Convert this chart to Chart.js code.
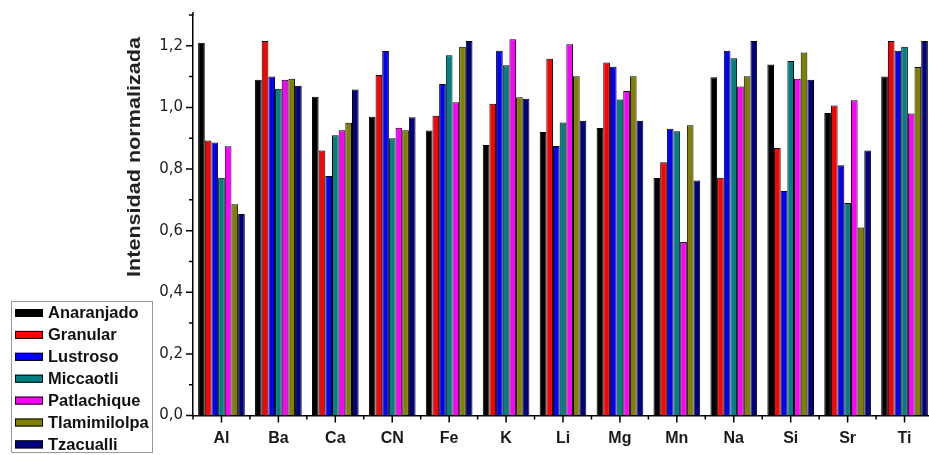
<!DOCTYPE html>
<html>
<head>
<meta charset="utf-8">
<script src="https://cdn.jsdelivr.net/npm/chart.js@4/dist/chart.umd.min.js"></script>
<style>
    html, body { margin: 0; padding: 0; background: #fff; overflow: hidden; }
    #wrap { width: 940px; height: 455px; }
</style>
</head>
<body>
<div id="wrap"><canvas id="chart" width="940" height="455"></canvas></div>
<script>
// Elementos medidos y muestras
const elementos = ['Al', 'Ba', 'Ca', 'CN', 'Fe', 'K', 'Li', 'Mg', 'Mn', 'Na', 'Si', 'Sr', 'Ti'];

const anaranjado   = [1.210, 1.090, 1.035, 0.970, 0.925, 0.878, 0.920, 0.933, 0.771, 1.098, 1.139, 0.982, 1.100];
const granular     = [0.893, 1.216, 0.860, 1.105, 0.973, 1.012, 1.158, 1.146, 0.822, 0.772, 0.868, 1.006, 1.216];
const lustroso     = [0.886, 1.100, 0.777, 1.183, 1.076, 1.184, 0.875, 1.132, 0.931, 1.184, 0.729, 0.812, 1.184];
const miccaotli    = [0.772, 1.061, 0.910, 0.900, 1.169, 1.137, 0.951, 1.026, 0.923, 1.160, 1.151, 0.690, 1.197];
const patlachique  = [0.874, 1.090, 0.926, 0.934, 1.017, 1.221, 1.205, 1.053, 0.563, 1.068, 1.093, 1.023, 0.980];
const tlamimilolpa = [0.686, 1.093, 0.950, 0.926, 1.197, 1.033, 1.101, 1.101, 0.942, 1.101, 1.178, 0.610, 1.131];
const tzacualli    = [0.654, 1.070, 1.058, 0.968, 1.216, 1.028, 0.957, 0.957, 0.763, 1.216, 1.090, 0.860, 1.216];

const muestras = ['Anaranjado', 'Granular', 'Lustroso', 'Miccaotli', 'Patlachique', 'Tlamimilolpa', 'Tzacualli'];
const series = [anaranjado, granular, lustroso, miccaotli, patlachique, tlamimilolpa, tzacualli];
const colores = ['#000000', '#ff0000', '#0000ff', '#008080', '#ff00ff', '#808000', '#000080'];

const FUENTE = '"Liberation Sans", Arial, sans-serif';

// texto estirado a lo ancho
function textoAncho(ctx, texto, x, y, escala) {
    ctx.save();
    ctx.translate(x, y);
    ctx.scale(escala, 1);
    ctx.fillText(texto, 0, 0);
    ctx.restore();
}

// Marcas de los ejes, título vertical y leyenda con recuadro
const extras = {
    id: 'extras',
    afterDraw(chart) {
        const { ctx, chartArea, scales: { x, y } } = chart;
        ctx.save();
        ctx.strokeStyle = '#000';
        ctx.lineWidth = 1.5;
        ctx.beginPath();
        ctx.moveTo(chartArea.left, chartArea.top);
        ctx.lineTo(chartArea.left, chartArea.top - 3);
        y.ticks.forEach(t => {
            const py = y.getPixelForValue(t.value);
            const largo = Math.round(t.value * 10) % 2 === 0 ? 7 : 4;
            ctx.moveTo(chartArea.left - largo, py);
            ctx.lineTo(chartArea.left, py);
        });
        const paso = (chartArea.right - chartArea.left) / elementos.length;
        elementos.forEach((_, i) => {
            const px = x.getPixelForValue(i);
            ctx.moveTo(px, chartArea.bottom);
            ctx.lineTo(px, chartArea.bottom + 7);
            ctx.moveTo(px - paso / 2, chartArea.bottom);
            ctx.lineTo(px - paso / 2, chartArea.bottom + 4);
        });
        ctx.stroke();

        // Título del eje Y
        ctx.save();
        ctx.translate(135, 157);
        ctx.rotate(-Math.PI / 2);
        ctx.fillStyle = '#222';
        ctx.font = 'bold 19px ' + FUENTE;
        ctx.textAlign = 'center';
        ctx.textBaseline = 'middle';
        const titulo = 'Intensidad normalizada';
        textoAncho(ctx, titulo, 0, 0, 240 / ctx.measureText(titulo).width);
        ctx.restore();

        // Leyenda
        ctx.lineWidth = 1;
        ctx.strokeStyle = '#999';
        ctx.strokeRect(11.5, 301.5, 141, 151);
        ctx.font = 'bold 16px ' + FUENTE;
        ctx.textBaseline = 'middle';
        chart.data.datasets.forEach((ds, i) => {
            const cy = 313 + i * 21.9;
            ctx.fillStyle = ds.backgroundColor;
            ctx.fillRect(15, cy - 4, 28, 8);
            ctx.strokeStyle = '#000';
            ctx.strokeRect(15.5, cy - 3.5, 27, 7);
            ctx.fillStyle = '#111';
            textoAncho(ctx, ds.label, 48, cy + 1, 1.03);
        });
        ctx.restore();
    }
};

new Chart(document.getElementById('chart'), {
    type: 'bar',
    data: {
        labels: elementos,
        datasets: muestras.map((m, i) => ({
            label: m,
            data: series[i],
            backgroundColor: colores[i],
            borderColor: '#000',
            borderWidth: 1,
            categoryPercentage: 0.82,
            barPercentage: 1.0
        }))
    },
    options: {
        responsive: false,
        animation: false,
        layout: { padding: { left: 133, right: 7, top: 15, bottom: 0 } },
        plugins: {
            legend: { display: false },
            tooltip: { enabled: false }
        },
        scales: {
            x: {
                grid: { display: true, drawOnChartArea: false, drawTicks: false },
                border: { color: '#000', width: 1.5 },
                ticks: {
                    color: '#1a1a1a',
                    font: { family: FUENTE, size: 16, weight: 'bold' },
                    padding: 13,
                    maxRotation: 0
                },
                afterFit: (scale) => { scale.height = 39.5; }
            },
            y: {
                min: 0,
                max: 1.3,
                grid: { display: true, drawOnChartArea: false, drawTicks: false },
                border: { color: '#000', width: 1.5 },
                ticks: {
                    stepSize: 0.1,
                    autoSkip: false,
                    color: '#222',
                    padding: 10,
                    font: { family: '"DejaVu Sans", sans-serif', size: 15 },
                    callback: (v) => Math.round(v * 10) % 2 === 0 ? v.toFixed(1).replace('.', ',') : ''
                },
                afterFit: (scale) => {
                    scale.width = 60;
                    scale.paddingTop = 0;
                    scale.paddingBottom = 0;
                }
            }
        }
    },
    plugins: [extras]
});
</script>
</body>
</html>
